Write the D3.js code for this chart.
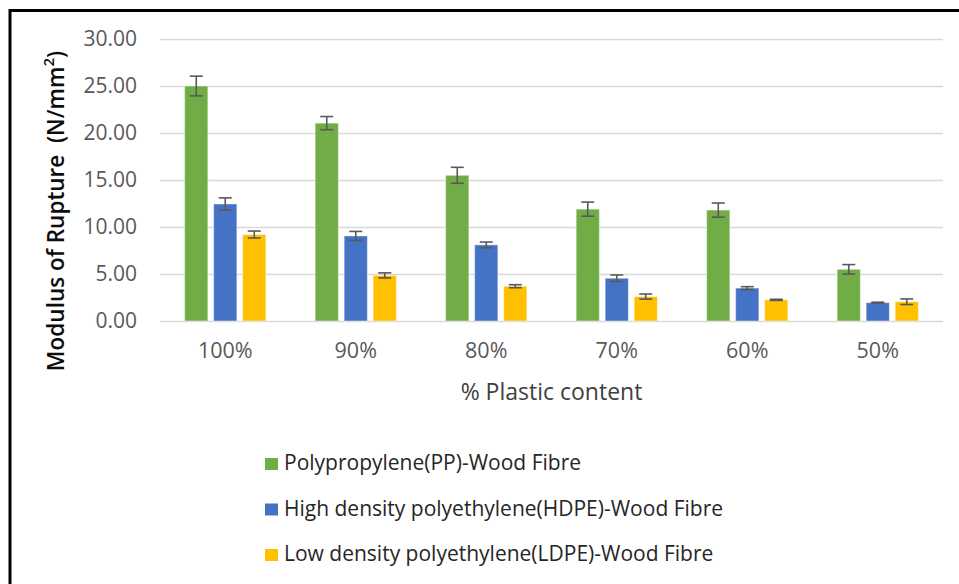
<!DOCTYPE html>
<html>
<head>
<meta charset="utf-8">
<script src="https://cdn.jsdelivr.net/npm/d3@7"></script>
<style>
  body { margin: 0; background: #fff; }
  svg { display: block; font-family: 'Open Sans', sans-serif; }
</style>
</head>
<body>
<svg id="svg" width="959" height="584"></svg>
<script>
const categories = ['100%', '90%', '80%', '70%', '60%', '50%']
const seriesNames = [
  'Polypropylene(PP)-Wood Fibre',
  'High density polyethylene(HDPE)-Wood Fibre',
  'Low density polyethylene(LDPE)-Wood Fibre'
]
const ppValues = [25.0, 21.05, 15.5, 11.9, 11.8, 5.5]
const hdpeValues = [12.45, 9.05, 8.1, 4.55, 3.5, 1.95]
const ldpeValues = [9.2, 4.85, 3.7, 2.6, 2.25, 2.05]
const ppErr = [1.05, 0.7, 0.85, 0.75, 0.75, 0.5]
const hdpeErr = [0.65, 0.48, 0.3, 0.35, 0.15, 0.05]
const ldpeErr = [0.37, 0.27, 0.16, 0.27, 0.06, 0.3]
const yTicks = [0, 5, 10, 15, 20, 25, 30]
const colors = ['#70ad47', '#4472c4', '#ffc000']

const values = [ppValues, hdpeValues, ldpeValues]
const errors = [ppErr, hdpeErr, ldpeErr]

const svg = d3.select('#svg')

// frame (top and left edges only, image is cropped)
svg.append('path')
  .attr('d', 'M10,584 V10.5 H959')
  .attr('fill', 'none')
  .attr('stroke', '#000')
  .attr('stroke-width', 3)

const plotLeft = 160
const plotRight = 943
const plotTop = 39
const plotBottom = 321

const x0 = d3.scaleBand()
  .domain(categories)
  .range([plotLeft, plotRight])

const x1 = d3.scaleBand()
  .domain(d3.range(3))
  .range([0, x0.bandwidth()])
  .paddingInner(0.2)
  .paddingOuter(0.85)

const y = d3.scaleLinear()
  .domain([0, 30])
  .range([plotBottom, plotTop])

// gridlines
svg.append('g')
  .selectAll('line')
  .data(yTicks)
  .join('line')
  .attr('x1', plotLeft)
  .attr('x2', plotRight)
  .attr('y1', d => Math.round(y(d)) + 0.5)
  .attr('y2', d => Math.round(y(d)) + 0.5)
  .attr('stroke', '#d9d9d9')
  .attr('stroke-width', 1.3)

// y axis labels
const yAxis = d3.axisLeft(y)
  .tickValues(yTicks)
  .tickFormat(d3.format('.2f'))
  .tickSize(0)
  .tickPadding(23)

const yAxisG = svg.append('g')
  .attr('transform', `translate(${plotLeft}, 0)`)
  .call(yAxis)
yAxisG.select('.domain').remove()
yAxisG.selectAll('text')
  .attr('font-family', 'Open Sans')
  .attr('font-size', 21)
  .attr('fill', '#595959')

// x axis labels
const xAxis = d3.axisBottom(x0).tickSize(0).tickPadding(22)
const xAxisG = svg.append('g')
  .attr('transform', `translate(0, ${plotBottom})`)
  .call(xAxis)
xAxisG.select('.domain').remove()
xAxisG.selectAll('text')
  .attr('font-family', 'Open Sans')
  .attr('font-size', 21.5)
  .attr('fill', '#595959')

// bars
const groups = svg.append('g')
  .selectAll('g')
  .data(categories)
  .join('g')
  .attr('transform', d => `translate(${x0(d)}, 0)`)

groups.selectAll('rect')
  .data((d, i) => values.map((s, k) => ({ k, v: s[i], e: errors[k][i] })))
  .join('rect')
  .attr('x', d => x1(d.k))
  .attr('width', x1.bandwidth())
  .attr('y', d => y(d.v))
  .attr('height', d => y(0) - y(d.v))
  .attr('fill', d => colors[d.k])
  .attr('stroke', '#fff')
  .attr('stroke-opacity', 0.45)
  .attr('stroke-width', 1)

// error bars
const err = groups.selectAll('g.err')
  .data((d, i) => values.map((s, k) => ({ k, v: s[i], e: errors[k][i] })))
  .join('g')
  .attr('class', 'err')
  .attr('stroke', '#595959')
  .attr('stroke-width', 1.6)

err.append('line')
  .attr('x1', d => x1(d.k) + x1.bandwidth() / 2)
  .attr('x2', d => x1(d.k) + x1.bandwidth() / 2)
  .attr('y1', d => y(d.v + d.e))
  .attr('y2', d => y(d.v - d.e))

err.selectAll('line.cap')
  .data(d => [d.v + d.e, d.v - d.e].map(val => ({ k: d.k, val })))
  .join('line')
  .attr('class', 'cap')
  .attr('x1', d => x1(d.k) + x1.bandwidth() / 2 - 6.5)
  .attr('x2', d => x1(d.k) + x1.bandwidth() / 2 + 6.5)
  .attr('y1', d => y(d.val))
  .attr('y2', d => y(d.val))

// y axis title
const yTitle = svg.append('text')
  .attr('transform', 'translate(64, 211) rotate(-90)')
  .attr('text-anchor', 'middle')
  .attr('font-size', 22.5)
  .attr('font-weight', 600)
  .attr('fill', '#0d0d0d')
  .attr('xml:space', 'preserve')
yTitle.append('tspan').text('Modulus of Rupture  (N/mm')
yTitle.append('tspan')
  .attr('baseline-shift', 'super')
  .attr('font-size', 15)
  .text('2')
yTitle.append('tspan').text(')')

// x axis title
svg.append('text')
  .attr('x', (plotLeft + plotRight) / 2)
  .attr('y', 400)
  .attr('text-anchor', 'middle')
  .attr('font-size', 23)
  .attr('fill', '#404040')
  .text('% Plastic content')

// legend
const legend = svg.append('g')
  .selectAll('g')
  .data(seriesNames)
  .join('g')
  .attr('transform', (d, i) => `translate(265, ${470 + i * 45.5})`)

legend.append('rect')
  .attr('x', 0)
  .attr('y', -12)
  .attr('width', 13)
  .attr('height', 12)
  .attr('fill', (d, i) => colors[i])

legend.append('text')
  .attr('x', 19)
  .attr('y', 0)
  .attr('font-size', 21)
  .attr('fill', '#262626')
  .text(d => d)
</script>
</body>
</html>
